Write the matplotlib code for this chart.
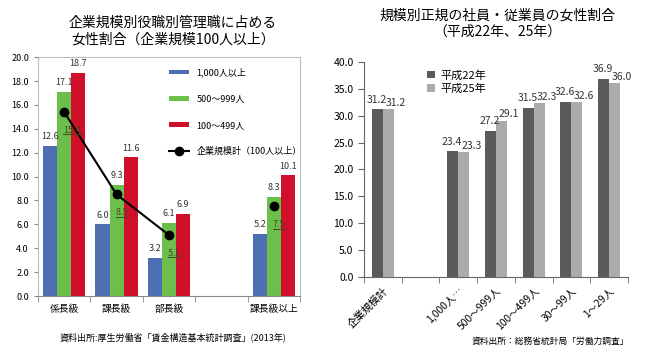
import numpy as np
import matplotlib
matplotlib.use("Agg")
from matplotlib import pyplot as plt

plt.rcParams['font.family'] = ['Noto Sans CJK JP', 'DejaVu Sans']

# left chart data
yakushoku = ['係長級', '課長級', '部長級', '', '課長級以上']
v_1000 = [12.6, 6.0, 3.2, np.nan, 5.2]
v_500 = [17.1, 9.3, 6.1, np.nan, 8.3]
v_100 = [18.7, 11.6, 6.9, np.nan, 10.1]
v_total = [15.4, 8.5, 5.1, np.nan, 7.5]
labels_left = ['1,000人以上', '500〜999人', '100〜499人', '企業規模計（100人以上）']

# right chart data
kibo = ['企業規模計', '', '1,000人…', '500〜999人', '100〜499人', '30〜99人', '1〜29人']
h22 = [31.2, np.nan, 23.4, 27.2, 31.5, 32.6, 36.9]
h25 = [31.2, np.nan, 23.3, 29.1, 32.3, 32.6, 36.0]

fig = plt.figure(figsize=(6.5, 3.56), dpi=100)

# ---- left
ax = fig.add_axes([0.0585, 0.1685, 0.403, 0.671])
x = np.arange(len(yakushoku))
w = 0.27
cols = ['#4f6fb3', '#6cbf4a', '#d0102a']
handles = []
for i, (vals, c, lab) in enumerate(zip([v_1000, v_500, v_100], cols, labels_left)):
    xs = x + (i - 1) * w
    b = ax.bar(xs, vals, w, color=c, label=lab)
    handles.append(b)
    for xx, v in zip(xs, vals):
        if not np.isnan(v):
            ax.text(xx, v + 0.4, f'{v:.1f}', ha='center', va='bottom', fontsize=6.5, color='#333333')
ln, = ax.plot(x[:3], v_total[:3], color='black', lw=1.5, marker='o', ms=6, label=labels_left[3])
handles.append(ln)
ax.plot(x[4], v_total[4], color='black', marker='o', ms=6, ls='none')
tot_txt = []
for xx, v in zip(x, v_total):
    if not np.isnan(v):
        t = ax.annotate(f'{v:.1f}', (xx, v), xytext=(-1, -14), textcoords='offset pixels',
                        fontsize=6.5, color='#3d4a22', ha='left', va='top')
        tot_txt.append(t)
ax.set_xlim(-0.5, 4.5)
ax.set_ylim(0, 20)
ax.set_yticks(np.arange(0, 20.1, 2))
ax.set_yticklabels([f'{t:.1f}' for t in np.arange(0, 20.1, 2)], fontsize=6.5)
ax.set_xticks(x)
ax.set_xticklabels(yakushoku, fontsize=7)
ax.tick_params(axis='x', length=0, pad=6)
ax.set_xticks(np.arange(-0.5, 4.6, 1), minor=True)
ax.tick_params(axis='x', which='minor', length=4, color='#888888')
ax.tick_params(axis='y', length=3, color='#888888')
for s in ax.spines.values():
    s.set_color('#bbbbbb')
ax.spines['bottom'].set_color('#888888')
ax.legend(handles, labels_left, loc='upper left', bbox_to_anchor=(0.47, 0.99), frameon=False,
          fontsize=6.5, labelspacing=1.9, handlelength=2.2, handleheight=0.4)

# ---- right
ax2 = fig.add_axes([0.56, 0.2219, 0.406, 0.604])
x2 = np.arange(len(kibo))
w2 = 0.29
for i, (vals, c, lab) in enumerate(zip([h22, h25], ['#5b5b5b', '#ababab'], ['平成22年', '平成25年'])):
    xs = x2 + (i - 0.5) * w2
    ax2.bar(xs, vals, w2, color=c, label=lab)
    for xx, v in zip(xs, vals):
        if not np.isnan(v):
            if i == 0:
                ax2.text(xx - 0.02, v + 0.8, f'{v:.1f}', ha='center', va='bottom', fontsize=7.5, color='#333333')
            else:
                ax2.text(xx + 0.2, v + 0.2, f'{v:.1f}', ha='center', va='bottom', fontsize=7.5, color='#333333')
ax2.set_xlim(-0.5, 6.5)
ax2.set_ylim(0, 40)
ax2.set_yticks(np.arange(0, 40.1, 5))
ax2.set_yticklabels([f'{t:.1f}' for t in np.arange(0, 40.1, 5)], fontsize=7.5)
ax2.set_xticks(x2)
ax2.set_xticklabels(kibo, fontsize=7.5, rotation=45, ha='right', rotation_mode='anchor')
ax2.tick_params(axis='x', length=0, pad=6)
ax2.set_xticks(np.arange(-0.5, 6.6, 1), minor=True)
ax2.tick_params(axis='x', which='minor', length=4, color='#666666')
ax2.tick_params(axis='y', length=4, color='#666666')
ax2.spines['top'].set_visible(False)
ax2.spines['right'].set_visible(False)
ax2.spines['left'].set_color('#666666')
ax2.spines['bottom'].set_color('#666666')
ax2.legend(loc='upper left', bbox_to_anchor=(0.2, 1.01), frameon=False, fontsize=8,
           handlelength=0.7, handleheight=0.7, handletextpad=0.5, labelspacing=0.3)

# titles / sources
fig.text(0.266, 0.913, '企業規模別役職別管理職に占める\n女性割合（企業規模100人以上）',
         ha='center', va='center', fontsize=10, linespacing=1.2)
fig.text(0.765, 0.935, '規模別正規の社員・従業員の女性割合\n（平成22年、25年）',
         ha='center', va='center', fontsize=10, linespacing=1.2)
fig.text(0.092, 0.053, '資料出所:厚生労働省「賃金構造基本統計調査」(2013年)', fontsize=6.5, va='center')
fig.text(0.726, 0.04, '資料出所：総務省統計局「労働力調査」', fontsize=6.3, va='center')

# underline the total labels
fig.canvas.draw()
r = fig.canvas.get_renderer()
for t in tot_txt:
    bb = t.get_window_extent(r).transformed(fig.transFigure.inverted())
    fig.add_artist(plt.Line2D([bb.x0, bb.x1], [bb.y0 + 0.002, bb.y0 + 0.002], color='#3d4a22', lw=0.7))

plt.savefig('out.png', dpi=100)
